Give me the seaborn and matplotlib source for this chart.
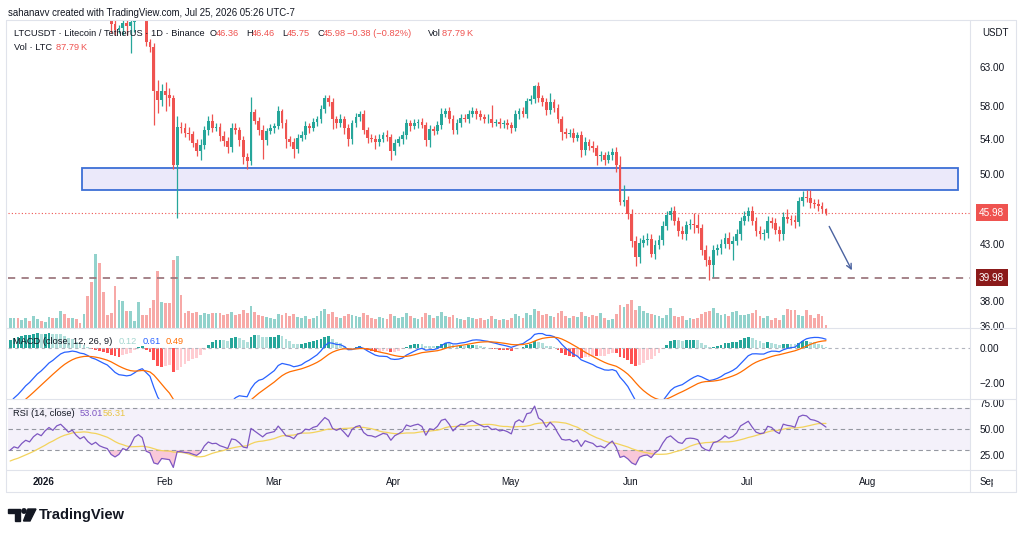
import numpy as np
import pandas as pd
import matplotlib
matplotlib.use("Agg")
import matplotlib.pyplot as plt
import seaborn as sns
from matplotlib.patches import Rectangle, Polygon, Circle
from matplotlib.ticker import NullLocator, NullFormatter

# ---------------- data ----------------
# daily candles, day 0 ~ 1 Jan 2026, first visible candle is day -8
first_day = -8

# closes before the visible window (only used to warm up MACD / RSI)
history_closes = [93.5, 92.4, 93.0, 91.6, 90.7, 91.2, 89.6, 88.5, 89.0, 87.4,
                  86.6, 85.3, 85.9, 84.2, 83.1, 83.6, 82.0, 80.9, 81.4, 79.9,
                  79.1, 77.6, 78.2, 76.7, 75.7, 76.3, 74.8, 73.7, 74.2, 72.9,
                  73.3, 72.0, 72.6, 71.4, 70.8, 71.5, 70.9, 71.6, 71.3, 72.0]

closes = [72.3, 72.8, 72.4, 73.1, 73.6, 73.2, 74.0, 74.5, 74.1, 74.9,
          75.5, 75.0, 75.8, 76.1, 75.5, 74.8, 75.1, 74.2, 73.5, 73.8,
          72.8, 72.1, 72.4, 71.6, 71.2, 70.9, 69.2, 68.3, 68.6, 69.3,
          68.9, 69.5, 70.6, 71.0, 70.4, 66.6, 65.9, 59.8, 58.7, 59.8,
          59.4, 59.0, 51.0, 55.4, 55.3, 54.7, 54.5, 53.5, 52.6, 53.3,
          55.0, 56.1, 55.3, 55.4, 54.3, 53.7, 53.0, 55.3, 55.0, 53.8,
          51.9, 51.5, 57.2, 56.1, 55.0, 53.8, 54.9, 55.2, 55.5, 57.3,
          55.8, 53.9, 53.6, 52.8, 54.1, 54.4, 55.5, 55.3, 56.0, 56.3,
          57.6, 59.0, 58.4, 56.3, 55.8, 56.3, 55.2, 53.9, 55.8, 56.6,
          56.9, 55.0, 54.1, 54.0, 53.6, 54.0, 54.4, 54.2, 52.6, 53.5,
          53.9, 54.4, 55.8, 55.5, 55.8, 56.0, 55.6, 53.8, 55.1, 54.9,
          55.6, 57.0, 57.3, 56.4, 55.0, 55.9, 56.5, 56.4, 57.0, 57.3,
          56.9, 56.6, 56.3, 56.4, 55.9, 56.0, 55.7, 55.8, 55.6, 55.3,
          56.9, 57.3, 57.0, 58.6, 58.8, 60.5, 58.9, 58.5, 57.4, 58.4,
          57.7, 56.3, 54.8, 54.6, 54.7, 54.1, 54.4, 52.7, 53.6, 53.2,
          52.9, 52.0, 52.1, 51.6, 52.1, 52.5, 51.0, 47.1, 47.3, 45.9,
          43.3, 41.8, 43.1, 43.4, 43.5, 42.1, 42.9, 43.4, 44.7, 45.8,
          46.2, 45.2, 44.2, 43.9, 44.8, 44.9, 44.8, 44.5, 42.4, 41.5,
          41.1, 42.4, 42.6, 43.0, 43.6, 43.0, 43.3, 43.9, 45.2, 45.7,
          46.2, 45.2, 44.2, 43.9, 44.0, 45.2, 45.0, 44.3, 43.9, 45.6,
          45.4, 45.3, 45.1, 47.2, 47.6, 47.5, 47.0, 46.9, 46.7, 46.36,
          45.98]

up_wicks = [0.6, 0.5, 0.7, 0.6, 0.5, 0.8, 0.6, 0.5, 0.7, 0.6,
            0.6, 0.8, 0.5, 0.7, 0.6, 0.9, 0.5, 0.6, 0.7, 0.5,
            0.6, 0.7, 0.5, 0.6, 0.8, 0.5, 0.6, 0.7, 0.5, 0.6,
            0.7, 0.5, 0.6, 0.5, 0.6, 0.5, 0.4, 0.5, 1.5, 1.0,
            1.3, 0.8, 0.3, 1.3, 0.6, 0.5, 0.7, 0.4, 0.5, 0.6,
            0.5, 0.6, 0.8, 0.5, 0.4, 0.6, 0.5, 0.6, 0.5, 0.4,
            0.5, 0.4, 1.9, 0.4, 0.5, 0.6, 0.4, 0.5, 0.4, 0.7,
            0.3, 0.5, 0.4, 0.5, 0.4, 0.5, 0.6, 0.4, 0.5, 0.4,
            0.5, 0.4, 0.3, 0.5, 0.4, 0.6, 0.4, 0.5, 0.4, 0.5,
            0.4, 0.5, 0.4, 0.5, 0.4, 0.5, 0.4, 0.6, 0.4, 0.5,
            0.4, 0.5, 0.6, 0.4, 0.5, 0.4, 0.5, 0.4, 0.5, 0.4,
            0.5, 0.7, 0.4, 0.5, 0.4, 0.5, 0.4, 0.5, 0.4, 0.5,
            0.4, 0.5, 0.4, 0.5, 1.7, 0.4, 0.5, 0.4, 0.5, 0.4,
            0.5, 0.4, 0.5, 0.4, 0.5, 0.2, 0.5, 0.4, 0.5, 1.2,
            0.4, 0.5, 0.4, 0.5, 0.4, 0.5, 0.4, 0.5, 0.6, 0.4,
            0.5, 0.4, 0.5, 0.4, 0.5, 0.4, 0.5, 1.0, 1.5, 0.4,
            0.5, 0.4, 0.5, 0.4, 0.5, 0.4, 0.5, 0.4, 0.5, 0.4,
            0.4, 0.5, 0.4, 0.5, 0.4, 0.5, 1.1, 1.1, 0.4, 0.5,
            0.4, 0.5, 0.4, 0.5, 0.4, 0.5, 0.4, 0.5, 0.4, 0.5,
            0.4, 0.5, 0.4, 0.5, 0.4, 0.5, 0.4, 0.5, 0.4, 0.5,
            0.8, 0.4, 0.5, 0.4, 0.6, 0.7, 0.8, 0.4, 0.5, 0.4,
            0.10]

down_wicks = [0.5, 0.6, 0.5, 0.7, 0.5, 0.6, 0.5, 0.6, 0.5, 0.7,
              0.5, 0.6, 0.5, 0.6, 0.7, 0.5, 0.6, 0.5, 0.7, 0.6,
              0.5, 0.6, 0.5, 0.7, 0.5, 0.5, 1.4, 0.7, 0.5, 1.0,
              1.3, 3.9, 1.5, 0.6, 0.6, 0.6, 0.8, 4.2, 1.6, 0.8,
              2.1, 1.0, 0.4, 5.5, 0.6, 0.5, 0.7, 0.5, 0.6, 1.0,
              0.5, 0.6, 0.5, 0.4, 0.6, 0.5, 0.6, 0.5, 0.4, 0.6,
              0.8, 0.9, 0.5, 0.4, 0.6, 2.1, 0.5, 0.4, 0.5, 0.4,
              0.5, 1.0, 0.4, 1.0, 0.5, 0.4, 0.5, 0.6, 0.4, 0.5,
              0.4, 0.5, 0.4, 1.2, 0.5, 0.4, 0.6, 0.8, 0.5, 0.4,
              0.5, 0.4, 0.6, 0.4, 0.8, 0.5, 0.4, 0.5, 1.0, 0.5,
              0.4, 0.5, 0.4, 0.6, 0.4, 0.5, 0.4, 0.6, 0.8, 0.5,
              0.4, 0.5, 0.4, 0.6, 0.5, 0.4, 0.5, 0.4, 0.5, 0.4,
              0.5, 0.4, 0.5, 0.4, 0.5, 0.4, 0.5, 0.4, 0.5, 0.6,
              0.4, 0.5, 0.4, 0.5, 0.4, 0.5, 0.4, 0.5, 0.6, 0.4,
              0.5, 0.4, 1.0, 0.5, 0.4, 0.5, 0.4, 0.8, 0.6, 0.5,
              0.4, 1.0, 0.5, 0.6, 0.4, 0.5, 0.8, 0.3, 0.4, 0.5,
              0.6, 0.8, 0.5, 0.4, 0.5, 0.3, 0.5, 0.4, 0.5, 0.4,
              0.5, 0.4, 0.5, 0.4, 0.5, 0.4, 0.8, 0.5, 0.4, 0.5,
              1.3, 1.1, 0.4, 0.5, 0.4, 0.5, 1.5, 0.4, 0.5, 0.4,
              0.5, 0.4, 0.5, 0.4, 0.5, 0.4, 0.5, 0.4, 0.6, 0.5,
              0.4, 0.5, 0.6, 0.4, 0.5, 0.4, 0.5, 0.4, 0.5, 0.4,
              0.23]

# volume in thousand LTC
volumes_k = [266, 266, 266, 213, 266, 186, 319, 239, 186, 160,
             293, 266, 266, 452, 372, 266, 266, 239, 133, 372,
             851, 1224, 1968, 1729, 958, 346, 399, 1117, 745, 718,
             452, 452, 186, 692, 346, 346, 532, 745, 1516, 692,
             665, 665, 1809, 1915, 878, 399, 452, 399, 426, 346,
             399, 372, 399, 399, 399, 346, 372,
             426, 346, 372, 479, 399, 585, 426, 346, 319, 293,
             266, 239, 372, 346, 399, 319, 372, 293, 266, 319,
             239, 266, 319, 452, 505, 372, 426, 293, 266, 319,
             372, 346, 319, 293, 399, 346, 266, 239, 293, 266,
             239, 372, 319, 266, 293, 399, 319, 266, 239, 293,
             399, 346, 266, 319, 426, 319, 293, 346, 266, 239,
             213, 293, 266, 239, 266, 213, 239, 319, 239, 213,
             239, 213, 266, 372, 319, 266, 399, 346, 505, 452,
             346, 372, 319, 293, 399, 452, 319, 266, 319, 293,
             426, 319, 293, 346,
             311, 399, 266, 221, 247, 372, 604, 551, 638, 737,
             487, 577, 460, 399, 380, 354, 311, 266, 354, 532,
             311, 285, 311, 221, 266, 247, 266, 380, 426, 444,
             532, 399, 354, 372, 311, 426, 444, 354, 338, 372,
             399, 487, 327, 266, 311, 221, 266, 221, 354, 505,
             487, 487, 354, 311, 487, 354, 266, 372, 311, 87.79]

price_ticks = [36, 38, 43, 50, 54, 58, 63]
macd_ticks = [0, -2]
rsi_ticks = [75, 50, 25]
month_labels = ["2026", "Feb", "Mar", "Apr", "May", "Jun", "Jul", "Aug", "Sep"]
month_starts = [0, 31, 59, 90, 120, 151, 181, 212, 243]

zone_low, zone_high = 48.37, 50.69
zone_start, zone_end = 10.5, 236.0
support_level = 39.98
last_close = 45.98
arrow_start = (202.5, 44.9)
arrow_end = (209.0, 40.4)

# ---------------- derived series ----------------
n = len(closes)
days = np.arange(first_day, first_day + n)
all_close = pd.Series(history_closes + closes, dtype=float)
opens = all_close.shift(1).iloc[len(history_closes):].to_numpy()
c = np.array(closes)
highs = np.maximum(opens, c) + np.array(up_wicks)
lows = np.minimum(opens, c) - np.array(down_wicks)
rising = c >= opens

ema12 = all_close.ewm(span=12, adjust=False).mean()
ema26 = all_close.ewm(span=26, adjust=False).mean()
macd_full = ema12 - ema26
signal_full = macd_full.ewm(span=9, adjust=False).mean()
hist_full = macd_full - signal_full
delta = all_close.diff()
gain = delta.clip(lower=0).ewm(alpha=1 / 14, adjust=False).mean()
loss = (-delta.clip(upper=0)).ewm(alpha=1 / 14, adjust=False).mean()
rsi_full = 100 - 100 / (1 + gain / loss)
rsi_ma_full = rsi_full.rolling(14).mean()

k = len(history_closes)
macd = macd_full.iloc[k:].to_numpy()
signal = signal_full.iloc[k:].to_numpy()
hist = hist_full.iloc[k:].to_numpy()
hist_prev = hist_full.iloc[k - 1:-1].to_numpy()
rsi = rsi_full.iloc[k:].to_numpy()
rsi_ma = rsi_ma_full.iloc[k:].to_numpy()

# ---------------- styling ----------------
sns.set_theme(style="white")
plt.rcParams['font.family'] = ['Liberation Sans', 'DejaVu Sans']

UP, DOWN = '#26a69a', '#ef5350'
UP_VOL, DOWN_VOL = '#92d2cc', '#f7a9a7'
TXT = '#131722'
GRID = '#e0e3eb'
FS = 6.7

W, H = 1024, 537
fig = plt.figure(figsize=(W / 100, H / 100), dpi=100)


def rect(x0, y0, x1, y1):
    return [x0 / W, 1 - y1 / H, (x1 - x0) / W, (y1 - y0) / H]


X0, X1 = -8.55, 239.07
L, R = 8, 970

ax_vol = fig.add_axes(rect(L, 20, R, 328))
ax = fig.add_axes(rect(L, 20, R, 328))
ax_macd = fig.add_axes(rect(L, 328, R, 399))
ax_rsi = fig.add_axes(rect(L, 399, R, 470))
ax_time = fig.add_axes(rect(L, 470, 993, 492))
for a in (ax_vol, ax, ax_macd, ax_rsi, ax_time):
    a.set_xlim(X0, X1)
    for s in a.spines.values():
        s.set_visible(False)
    a.set_xticks([])
ax.patch.set_visible(False)
ax_time.set_xlim(X0, 245.0)
ax_time.set_yticks([])
ax_time.patch.set_visible(False)

# volume
ax_vol.bar(days, volumes_k, width=0.72, color=np.where(rising, UP_VOL, DOWN_VOL), linewidth=0)
ax_vol.set_ylim(0, 8190)
ax_vol.set_yticks([])

# price candles
ax.set_yscale('log')
ax.set_ylim(35.85, 69.8)
ax.add_patch(Rectangle((zone_start, zone_low), zone_end - zone_start, zone_high - zone_low,
                       facecolor='#ebe9fa', edgecolor='#3d6fd6', linewidth=1.3, zorder=2))
cols = np.where(rising, UP, DOWN)
ax.vlines(days, lows, highs, colors=cols, linewidth=0.9, zorder=3)
body_low = np.minimum(opens, c)
body_h = np.maximum(np.abs(c - opens), 0.06)
ax.bar(days, body_h, bottom=body_low, width=0.72, color=cols, linewidth=0, zorder=4)
ax.axhline(last_close, color=DOWN, linestyle=(0, (1, 2)), linewidth=0.8, zorder=1)
ax.axhline(support_level, color='#9e7a80', linestyle=(0, (4, 3.5)), linewidth=1.3, zorder=1)
ax.annotate('', xy=arrow_end, xytext=arrow_start,
            arrowprops=dict(arrowstyle='->', color='#4b63a0', lw=1.0, mutation_scale=9))
ax.yaxis.tick_right()
ax.yaxis.set_minor_locator(NullLocator())
ax.yaxis.set_minor_formatter(NullFormatter())
ax.set_yticks(price_ticks)
ax.set_yticklabels([f"{v:.2f}" for v in price_ticks])
ax.tick_params(axis='y', length=0, pad=7, labelsize=7.2, labelcolor=TXT)
ytr = ax.get_yaxis_transform()
ax.text(1.0094, last_close, f"{last_close:.2f}", transform=ytr, fontsize=7.2, color='white',
        va='center', ha='left', clip_on=False,
        bbox=dict(boxstyle='square,pad=0.35', fc=DOWN, ec='none'))
ax.text(1.0094, support_level, f"{support_level:.2f}", transform=ytr, fontsize=7.2, color='white',
        va='center', ha='left', clip_on=False,
        bbox=dict(boxstyle='square,pad=0.35', fc='#8b1a1a', ec='none'))

# MACD
ax_macd.set_ylim(-2.914, 1.143)
hist_cols = np.where(hist >= 0, np.where(hist > hist_prev, '#26a69a', '#b2dfdb'),
                     np.where(hist < hist_prev, '#ff5252', '#ffcdd2'))
ax_macd.bar(days, hist, width=0.72, color=hist_cols, linewidth=0)
ax_macd.axhline(0, color='#b2b5be', linestyle=(0, (3, 3)), linewidth=0.8)
sns.lineplot(x=days, y=macd, ax=ax_macd, color='#2962ff', linewidth=0.9, legend=False)
sns.lineplot(x=days, y=signal, ax=ax_macd, color='#ff6d00', linewidth=0.9, legend=False)
ax_macd.yaxis.tick_right()
ax_macd.set_yticks(macd_ticks)
ax_macd.set_yticklabels(['0.00', '\u22122.00'])
ax_macd.tick_params(axis='y', length=0, pad=7, labelsize=7.2, labelcolor=TXT)
ax_macd.set_xlim(X0, X1)

# RSI
ax_rsi.set_ylim(10.95, 78.6)
ax_rsi.axhspan(30, 70, color='#7e57c2', alpha=0.08, linewidth=0)
for lvl in (70, 50, 30):
    ax_rsi.axhline(lvl, color='#9598a1', linestyle=(0, (4, 3)), linewidth=0.8)
ax_rsi.fill_between(days, rsi, 30, where=rsi < 30, color='#f06292', alpha=0.35, linewidth=0, interpolate=True)
ax_rsi.fill_between(days, rsi, 70, where=rsi > 70, color='#26a69a', alpha=0.25, linewidth=0, interpolate=True)
sns.lineplot(x=days, y=rsi_ma, ax=ax_rsi, color='#f3d35c', linewidth=0.9, legend=False)
sns.lineplot(x=days, y=rsi, ax=ax_rsi, color='#7e57c2', linewidth=0.9, legend=False)
ax_rsi.yaxis.tick_right()
ax_rsi.set_yticks(rsi_ticks)
ax_rsi.set_yticklabels([f"{v:.2f}" for v in rsi_ticks])
ax_rsi.tick_params(axis='y', length=0, pad=7, labelsize=7.2, labelcolor=TXT)
ax_rsi.set_xlim(X0, X1)

for a in (ax_macd, ax_rsi, ax_vol, ax):
    a.set_xlabel('')
    a.set_ylabel('')

# time axis
for lab, d in zip(month_labels, month_starts):
    ax_time.text(d + 0.7, 0.45, lab, fontsize=7, color=TXT, ha='center', va='center',
                 transform=ax_time.get_xaxis_transform(), clip_on=True,
                 fontweight='bold' if lab == '2026' else 'normal')

# overlay for frame, separators and texts
ov = fig.add_axes([0, 0, 1, 1])
ov.set_xlim(0, W)
ov.set_ylim(H, 0)
ov.axis('off')
ov.patch.set_visible(False)
for yy in (20, 328, 399, 470, 492):
    ov.plot([6, 1016], [yy, yy], color=GRID, linewidth=0.8)
ov.plot([970, 970], [20, 492], color=GRID, linewidth=0.8)
ov.plot([6, 6], [20, 492], color=GRID, linewidth=0.8)
ov.plot([1016, 1016], [20, 492], color=GRID, linewidth=0.8)


def put(x, y, s, color=TXT, size=FS, weight='normal'):
    ov.text(x, y, s, color=color, fontsize=size, ha='left', va='center', fontweight=weight)


put(8, 13, "sahanavv created with TradingView.com, Jul 25, 2026 05:26 UTC-7", size=6.95)
put(14, 34, "LTCUSDT \u00b7 Litecoin / TetherUS \u00b7 1D \u00b7 Binance")
put(210, 34, "O")
put(216, 34, "46.36", DOWN)
put(246, 34, "H")
put(252, 34, "46.46", DOWN)
put(282, 34, "L")
put(287, 34, "45.75", DOWN)
put(317, 34, "C")
put(323, 34, "45.98", DOWN)
put(347, 34, "\u22120.38 (\u22120.82%)", DOWN)
put(428, 34, "Vol")
put(442, 34, "87.79\u2009K", DOWN)
put(14, 47, "Vol \u00b7 LTC")
put(56, 47, "87.79\u2009K", DOWN)
put(982, 33, "USDT", size=7)

put(13, 342, "MACD (close, 12, 26, 9)")
put(119, 342, "0.12", '#a5d6d0')
put(143, 342, "0.61", '#2962ff')
put(166, 342, "0.49", '#ff6d00')

put(13, 413, "RSI (14, close)")
put(80, 413, "53.01", '#7e57c2')
put(103, 413, "56.31", '#e8c547')

# TradingView logo
ov.add_patch(Polygon([(8, 509), (20, 509), (20, 521), (14.5, 521), (14.5, 513), (8, 513)],
                     closed=True, color=TXT))
ov.add_patch(Circle((24, 511), 2.2, color=TXT))
ov.add_patch(Polygon([(28, 509), (36, 509), (30, 521), (23.5, 521)], closed=True, color=TXT))
put(39, 515, "TradingView", size=10.5, weight='bold')

fig.savefig("out.png", dpi=100)
